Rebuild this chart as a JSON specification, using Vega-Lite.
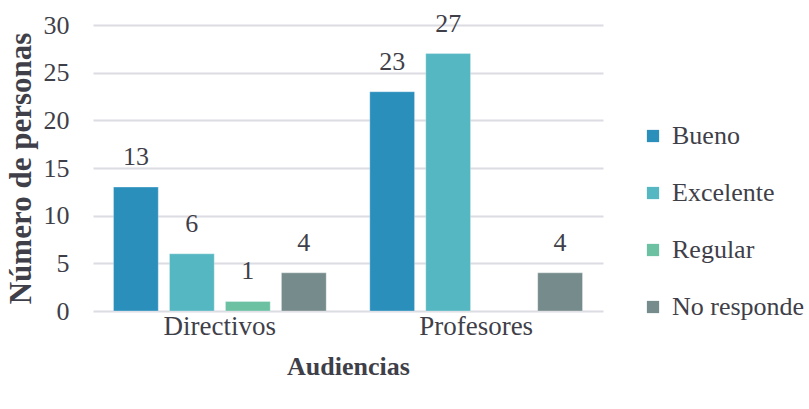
{
  "$schema": "https://vega.github.io/schema/vega-lite/v6.json",
  "width": 510,
  "height": 286,
  "autosize": "none",
  "padding": {"left": 93, "top": 25, "right": 206, "bottom": 98},
  "background": "white",
  "config": {
    "font": "Liberation Serif",
    "view": {"stroke": null},
    "axis": {"labelFont": "Liberation Serif", "titleFont": "Liberation Serif"},
    "legend": {"labelFont": "Liberation Serif"},
    "text": {"font": "Liberation Serif"}
  },
  "data": {
    "values": [
      {"audiencia": "Directivos", "valoracion": "Bueno", "n": 13},
      {"audiencia": "Directivos", "valoracion": "Excelente", "n": 6},
      {"audiencia": "Directivos", "valoracion": "Regular", "n": 1},
      {"audiencia": "Directivos", "valoracion": "No responde", "n": 4},
      {"audiencia": "Profesores", "valoracion": "Bueno", "n": 23},
      {"audiencia": "Profesores", "valoracion": "Excelente", "n": 27},
      {"audiencia": "Profesores", "valoracion": "Regular", "n": null},
      {"audiencia": "Profesores", "valoracion": "No responde", "n": 4}
    ]
  },
  "encoding": {
    "x": {
      "field": "audiencia", "type": "nominal",
      "scale": {"paddingInner": 0.17, "paddingOuter": 0.08},
      "axis": {
        "title": "Audiencias", "titleFontSize": 26, "titleFontWeight": "bold",
        "titleColor": "#3f3f4a", "titlePadding": 14,
        "labelAngle": 0, "labelFontSize": 27, "labelColor": "#3f3f4a", "labelPadding": 2,
        "ticks": false, "domain": false
      }
    },
    "xOffset": {
      "field": "valoracion", "type": "nominal",
      "sort": ["Bueno", "Excelente", "Regular", "No responde"],
      "scale": {"paddingInner": 0.2, "paddingOuter": 0}
    },
    "y": {
      "field": "n", "type": "quantitative",
      "scale": {"domain": [0, 30]},
      "axis": {
        "title": "Número de personas", "titleFontSize": 31, "titleFontWeight": "bold", "titleColor": "#3f3f4a",
        "titlePadding": 6,
        "values": [0, 5, 10, 15, 20, 25, 30],
        "labelFontSize": 26, "labelColor": "#3f3f4a", "labelPadding": 24,
        "ticks": false, "domain": false,
        "gridColor": "#dcdce3", "gridWidth": 2
      }
    }
  },
  "layer": [
    {
      "mark": {"type": "bar", "stroke": "#ffffff", "strokeOpacity": 0.3, "strokeWidth": 1},
      "encoding": {
        "color": {
          "field": "valoracion", "type": "nominal",
          "sort": ["Bueno", "Excelente", "Regular", "No responde"],
          "scale": {
            "domain": ["Bueno", "Excelente", "Regular", "No responde"],
            "range": ["#2b8fbc", "#55b7c2", "#6cc1a3", "#768b8b"]
          },
          "legend": {
            "title": null, "orient": "none", "legendX": 547, "legendY": 98,
            "symbolType": "square", "symbolSize": 150, "symbolStrokeWidth": 0,
            "labelFontSize": 26, "labelColor": "#3f3f4a", "labelOffset": 6,
            "rowPadding": 31
          }
        }
      }
    },
    {
      "mark": {"type": "text", "dy": -17, "baseline": "bottom", "fontSize": 26, "color": "#3f3f4a"},
      "encoding": {
        "text": {"field": "n", "type": "quantitative"}
      }
    }
  ]
}
